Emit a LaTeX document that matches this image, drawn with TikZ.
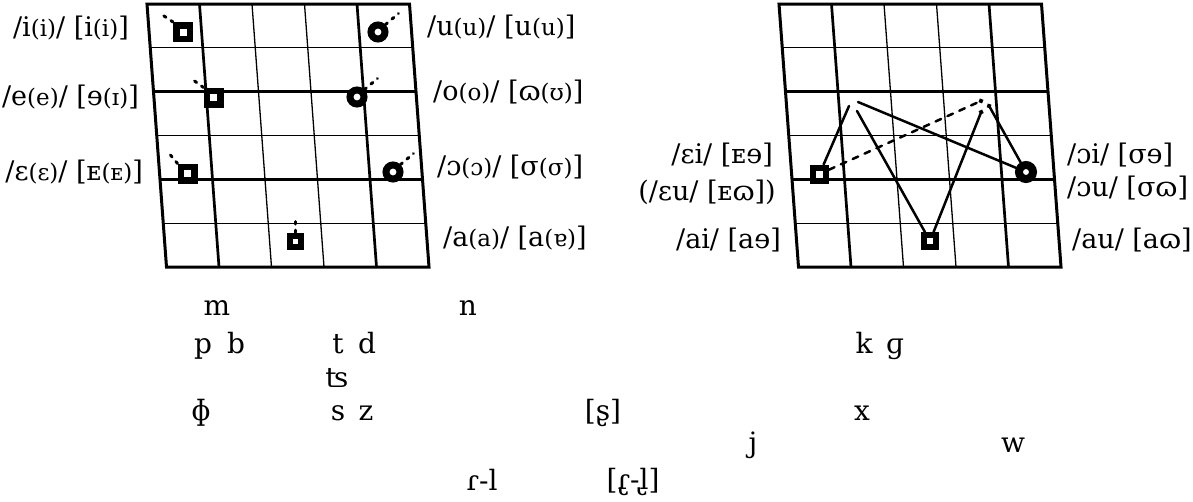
\documentclass[tikz,border=0pt]{standalone}
\usepackage{fontspec}
\setmainfont{DejaVu Serif}
\usetikzlibrary{arrows.meta}
\newcommand\sm[1]{{\fontsize{23}{25}\selectfont #1}}
\begin{document}
\begin{tikzpicture}[x=1pt,y=-1pt,
  border/.style={line width=3pt, line join=miter},
  sqm/.style={draw, line width=6.5pt, fill=white, minimum size=13.5pt, inner sep=0pt, rectangle},
  circm/.style={draw, line width=7pt, fill=white, minimum size=14pt, inner sep=0pt, circle},
  tick/.style={line width=3pt, dash pattern=on 2.5pt off 6pt, line cap=round},
  lab/.style={font=\fontsize{27}{31}\selectfont, inner sep=0pt},
  cons/.style={font=\fontsize{28}{32}\selectfont, inner sep=0pt, anchor=base},
  conn/.style={line width=2.5pt, line cap=round},
  dconn/.style={conn, dash pattern=on 6pt off 7pt},
  dot/.style={-{Circle[length=4.5pt]}},
]
\useasboundingbox (0,0) rectangle (1193,501);
% grids
\foreach \ox in {0,632} {
  \foreach \i/\lw in {1/1.3,2/2.7,3/1.3,4/2.7,5/1.3}
    \draw[line width=\lw pt] (\ox+147+3.25*\i,4+43.833*\i) -- (\ox+409.5+3.25*\i,4+43.833*\i);
  \foreach \j/\lw in {1/2.7,2/1.3,3/1.3,4/2.7}
    \draw[line width=\lw pt] (\ox+147+52.5*\j,4) -- (\ox+166.5+52.5*\j,267);
  \draw[border] (\ox+147,4) -- (\ox+409.5,4) -- (\ox+429,267) -- (\ox+166.5,267) -- cycle;
}
% left chart markers
\node[sqm] (vi) at (183,32) {};
\node[sqm] (ve) at (213.5,97.5) {};
\node[sqm] (veps) at (187.5,173.5) {};
\node[sqm, minimum size=11pt, line width=6pt] (va) at (295,241) {};
\node[circm] (vu) at (378,32) {};
\node[circm] (vo) at (357,97) {};
\node[circm] (vop) at (393,172) {};
\draw[tick] (vi.north west) -- ++(-12,-8);
\draw[tick] (ve.north west) -- ++(-11,-8);
\draw[tick] (veps.north west) -- ++(-10,-12);
\draw[tick] (va.north) -- ++(0,-12);
\draw[tick] (vu.north east) -- ++(13,-11);
\draw[tick] (vo.north east) -- ++(13,-11);
\draw[tick] (vop.north east) -- ++(13,-11);
% left chart labels
\node[lab, anchor=east] (li) at (129,28) {/i\sm{(i)}/ [i\sm{(i)}]};
\node[lab, anchor=east] (le) at (139,97) {/e\sm{(e)}/ [ɘ\sm{(ɪ)}]};
\node[lab, anchor=east] (leps) at (143,172) {/ɛ\sm{(ɛ)}/ [ᴇ\sm{(ᴇ)}]};
\node[lab, anchor=west] (lu) at (427,27) {/u\sm{(u)}/ [u\sm{(u)}]};
\node[lab, anchor=west] (lo) at (433,92) {/o\sm{(o)}/ [ɷ\sm{(ʊ)}]};
\node[lab, anchor=west] (lop) at (437,167) {/ɔ\sm{(ɔ)}/ [σ\sm{(σ)}]};
\node[lab, anchor=west] (la) at (443,238) {/a\sm{(a)}/ [a\sm{(ɐ)}]};
% right chart markers
\node[sqm, minimum size=13pt, line width=6pt] (sqL) at (819.5,174) {};
\node[sqm, minimum size=12pt, line width=6pt] (sqB) at (930,241) {};
\node[circm, minimum size=14pt, line width=8pt] (circR) at (1026,172) {};
\coordinate (tL1) at (849,106);
\coordinate (tL2) at (858,102);
\coordinate (tL3) at (857,111);
\coordinate (tR1) at (983,100);
\coordinate (tR2) at (982,110);
\coordinate (tR3) at (988,104);
\draw[conn] (sqL) -- (tL1);
\draw[conn] (tL2) -- (circR);
\draw[conn] (tL3) -- (sqB);
\draw[conn, dot] (sqB) -- (tR2);
\draw[conn, dot] (circR) -- (tR3);
\draw[dconn, dot] (sqL) -- (tR1);
% right chart labels
\node[lab, anchor=east] (lei) at (773,155) {/ɛi/ [ᴇɘ]};
\node[lab, anchor=east] (leu) at (776,192) {(/ɛu/ [ᴇɷ])};
\node[lab, anchor=east] (lai) at (781,240) {/ai/ [aɘ]};
\node[lab, anchor=west] (loi) at (1067,155) {/ɔi/ [σɘ]};
\node[lab, anchor=west] (lou) at (1067,188) {/ɔu/ [σɷ]};
\node[lab, anchor=west] (lau) at (1072,240) {/au/ [aɷ]};
% consonants
\node[cons] (cm) at (217,315) {m};
\node[cons] (cn) at (468,315) {n};
\node[cons] (cp) at (203,353) {p};
\node[cons] (cb) at (236,353) {b};
\node[cons] (ct) at (338,353) {t};
\node[cons] (cd) at (367,353) {d};
\node[cons] (ck) at (864,353) {k};
\node[cons] (cg) at (895,353) {ɡ};
\node[cons] (cts) at (337,387) {ʦ};
\node[cons] (cph) at (201,420) {ɸ};
\node[cons] (cs) at (338,420) {s};
\node[cons] (cz) at (366,420) {z};
\node[cons] (csr) at (603,420) {[ʂ]};
\node[cons] (cx) at (862,420) {x};
\node[cons] (cj) at (753,452) {j};
\node[cons] (cw) at (1013,452) {w};
\node[cons] (crl) at (482,490) {ɾ-l};
\node[cons] (crlr) at (633,489) {[ɾ̢-l̢]};
\end{tikzpicture}
\end{document}
